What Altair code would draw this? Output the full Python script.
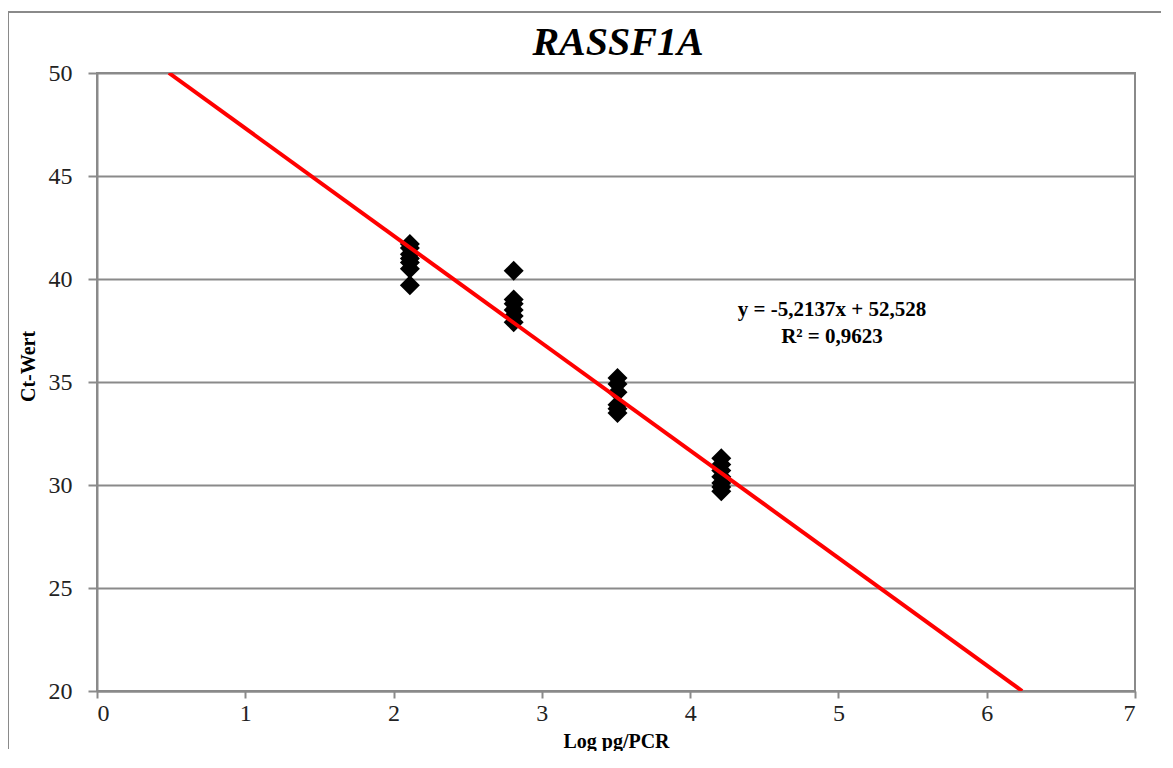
import altair as alt
import pandas as pd

# ---- data ----
log_pg = [2.11] * 7 + [2.81] * 6 + [3.51] * 6 + [4.21] * 7
ct_values = [41.7, 41.5, 41.2, 41.0, 40.8, 40.5, 39.7,
             40.4, 39.0, 38.8, 38.5, 38.2, 37.9,
             35.2, 34.9, 34.5, 33.9, 33.7, 33.5,
             31.3, 31.0, 30.7, 30.4, 30.1, 29.9, 29.7]
slope = -5.2137
intercept = 52.528
y_domain = [20, 50]
x_domain = [0, 7]
y_ticks = [20, 25, 30, 35, 40, 45, 50]
x_ticks = [0, 1, 2, 3, 4, 5, 6, 7]
equation_lines = ["y = -5,2137x + 52,528", "R² = 0,9623"]
title_text = "RASSF1A"

FONT = "Liberation Serif"
GRAY = "#8a8a8a"

points = pd.DataFrame({"x": log_pg, "y": ct_values})
line_x = [(y_domain[1] - intercept) / slope, (y_domain[0] - intercept) / slope]
line_df = pd.DataFrame({"x": line_x, "y": [intercept + slope * v for v in line_x]})
one = pd.DataFrame({"a": [0]})

xs = alt.Scale(domain=x_domain, nice=False)
ys = alt.Scale(domain=y_domain, nice=False)

x_axis = alt.Axis(values=x_ticks, format="d", grid=False, title="Log pg/PCR", domainColor=GRAY,
                  domainWidth=2, tickColor=GRAY, tickWidth=2, tickSize=7,
                  labelFont=FONT, labelFontSize=24, labelColor="#222", labelPadding=3,
                  titleFont=FONT, titleFontSize=20, titleFontWeight="bold", titleColor="black",
                  titleY=50, titleBaseline="middle")
y_axis = alt.Axis(values=y_ticks, format="d", grid=True, gridColor=GRAY, gridWidth=2,
                  title="Ct-Wert", domainColor=GRAY, domainWidth=2, tickColor=GRAY,
                  tickWidth=2, tickSize=9, labelFont=FONT, labelFontSize=24,
                  labelColor="#222", labelPadding=16,
                  titleFont=FONT, titleFontSize=20, titleFontWeight="bold", titleColor="black",
                  titleX=-69, titleY=293, titleBaseline="middle", titleAngle=270)

pts = alt.Chart(points).mark_point(shape="diamond", filled=True, size=400,
                                   color="black", opacity=1).encode(
    x=alt.X("x:Q", scale=xs, axis=x_axis),
    y=alt.Y("y:Q", scale=ys, axis=y_axis),
)

trend = alt.Chart(line_df).mark_line(color="#ff0000", strokeWidth=4, clip=True).encode(
    x=alt.X("x:Q", scale=xs), y=alt.Y("y:Q", scale=ys)
)

eq1 = alt.Chart(one).mark_text(font=FONT, fontSize=21, fontWeight="bold", color="black",
                               align="center", baseline="middle", text=equation_lines[0]).encode(
    x=alt.value(735), y=alt.value(237))
eq2 = alt.Chart(one).mark_text(font=FONT, fontSize=21, fontWeight="bold", color="black",
                               align="center", baseline="middle", text=equation_lines[1]).encode(
    x=alt.value(735), y=alt.value(264))

title = alt.Chart(one).mark_text(font=FONT, fontSize=40, fontWeight="bold", fontStyle="italic",
                                 color="black", align="center", baseline="middle",
                                 text=title_text).encode(
    x=alt.value(521), y=alt.value(-30))

border_top = alt.Chart(one).mark_rule(color=GRAY, strokeWidth=2).encode(
    x=alt.value(-89), x2=alt.value(1064), y=alt.value(-61))
border_left = alt.Chart(one).mark_rule(color=GRAY, strokeWidth=2).encode(
    x=alt.value(-89), y=alt.value(-61), y2=alt.value(676))

chart = alt.layer(pts, trend, eq1, eq2, title, border_top, border_left).properties(
    width=1038, height=618,
    autosize=alt.AutoSizeParams(type="none"),
    padding={"left": 89, "top": 65, "right": 28, "bottom": 60},
).configure_view(stroke=GRAY, strokeWidth=2)

chart.save("out.html", embed_options={"renderer": "svg", "actions": False})
